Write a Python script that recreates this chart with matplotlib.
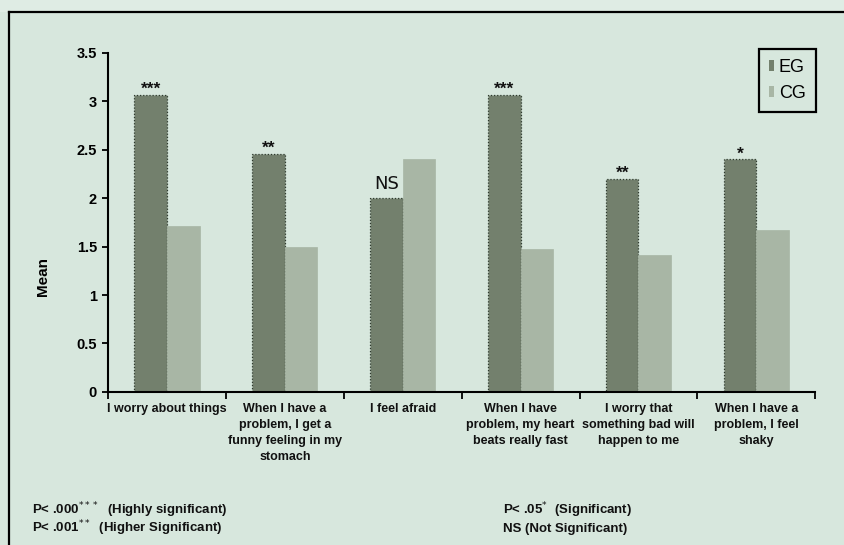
import matplotlib.pyplot as plt
from matplotlib.lines import Line2D
from matplotlib.patches import Patch
import numpy as np

plt.rcParams["font.family"] = ["Liberation Sans Narrow", "Liberation Sans", "DejaVu Sans"]

categories = [
    "I worry about things",
    "When I have a\nproblem, I get a\nfunny feeling in my\nstomach",
    "I feel afraid",
    "When I have\nproblem, my heart\nbeats really fast",
    "I worry that\nsomething bad will\nhappen to me",
    "When I have a\nproblem, I feel\nshaky",
]
eg_means = [3.07, 2.46, 2.00, 3.07, 2.20, 2.40]
cg_means = [1.71, 1.50, 2.40, 1.47, 1.41, 1.67]
significance = ["***", "**", "NS", "***", "**", "*"]
y_ticks = [0, 0.5, 1, 1.5, 2, 2.5, 3, 3.5]
y_tick_labels = ["0", "0.5", "1", "1.5", "2", "2.5", "3", "3.5"]

BG = "#d7e7dd"
EG_COLOR = "#73806d"
CG_COLOR = "#a8b6a5"

fig = plt.figure(figsize=(8.44, 5.45), dpi=100)
fig.patch.set_facecolor(BG)
ax = fig.add_axes([0.128, 0.281, 0.838, 0.622])
ax.set_facecolor(BG)

x = np.arange(len(categories))
w = 0.276
eg_bars = ax.bar(x - w / 2, eg_means, w, color=EG_COLOR, edgecolor="#2e3a2e",
                 linewidth=0.9, linestyle=(0, (1, 1.5)), label="EG")
cg_bars = ax.bar(x + w / 2, cg_means, w, color=CG_COLOR, edgecolor=CG_COLOR,
                 linewidth=0.5, label="CG")

for bar, mark in zip(eg_bars, significance):
    cx = bar.get_x() + bar.get_width() / 2
    top = bar.get_height()
    if mark == "NS":
        ax.text(cx, top + 0.05, mark, ha="center", va="bottom", fontsize=13,
                family=["Liberation Sans Narrow", "DejaVu Sans"], color="#111111")
    else:
        ax.text(cx, top - 0.02, mark, ha="center", va="bottom", fontsize=12.5,
                fontweight="bold", color="#111111")

ax.set_xlim(-0.5, len(categories) - 0.5)
ax.set_ylim(0, 3.5)
ax.set_yticks(y_ticks)
ax.set_yticklabels(y_tick_labels, fontsize=10.5, fontweight="bold")
ax.set_xticks(np.arange(-0.5, len(categories), 1.0))
ax.set_xticklabels([])
ax.tick_params(axis="y", direction="out", length=4, width=1.3, pad=4)
ax.tick_params(axis="x", direction="out", length=5, width=1.3)

for i, label in enumerate(categories):
    ax.text(i, -0.115, label, ha="center", va="top", fontsize=9,
            fontweight="bold", linespacing=1.45, color="#111111")

for side in ("top", "right"):
    ax.spines[side].set_visible(False)
for side in ("left", "bottom"):
    ax.spines[side].set_linewidth(1.5)

fig.text(0.051, 0.492, "Mean", rotation=90, ha="center", va="center",
         fontsize=11, fontweight="bold",
         family=["Liberation Sans", "DejaVu Sans"])

handles = [Patch(facecolor=EG_COLOR), Patch(facecolor=CG_COLOR)]
leg = fig.legend(handles, ["EG", "CG"], loc="upper right",
                 bbox_to_anchor=(0.977, 0.927),
                 handlelength=0.3, handleheight=0.55, handletextpad=0.25,
                 borderpad=0.55, labelspacing=0.5, fancybox=False,
                 framealpha=1, prop={"family": ["Liberation Sans", "DejaVu Sans"], "size": 13})
leg.get_frame().set_facecolor(BG)
leg.get_frame().set_edgecolor("black")
leg.get_frame().set_linewidth(1.6)

notes = [
    (0.038, 0.063, r"P< .000$^{***}$  (Highly significant)"),
    (0.038, 0.030, r"P< .001$^{**}$  (Higher Significant)"),
    (0.596, 0.063, r"P< .05$^{*}$  (Significant)"),
    (0.596, 0.030, "NS (Not Significant)"),
]
for nx, ny, txt in notes:
    fig.text(nx, ny, txt, ha="left", va="center", fontsize=9.5,
             fontweight="bold", color="#111111")

# page frame around the figure block
fig.add_artist(Line2D([0.0105, 0.0105], [0.0, 0.978], color="black", linewidth=1.6))
fig.add_artist(Line2D([0.0105, 1.0], [0.978, 0.978], color="black", linewidth=1.6))
fig.patches.append(plt.Rectangle((0, 0.978), 1, 0.022, transform=fig.transFigure,
                                 facecolor="#dfece4", edgecolor="none", zorder=-1))

fig.savefig("out.png", dpi=100, facecolor=fig.get_facecolor())
